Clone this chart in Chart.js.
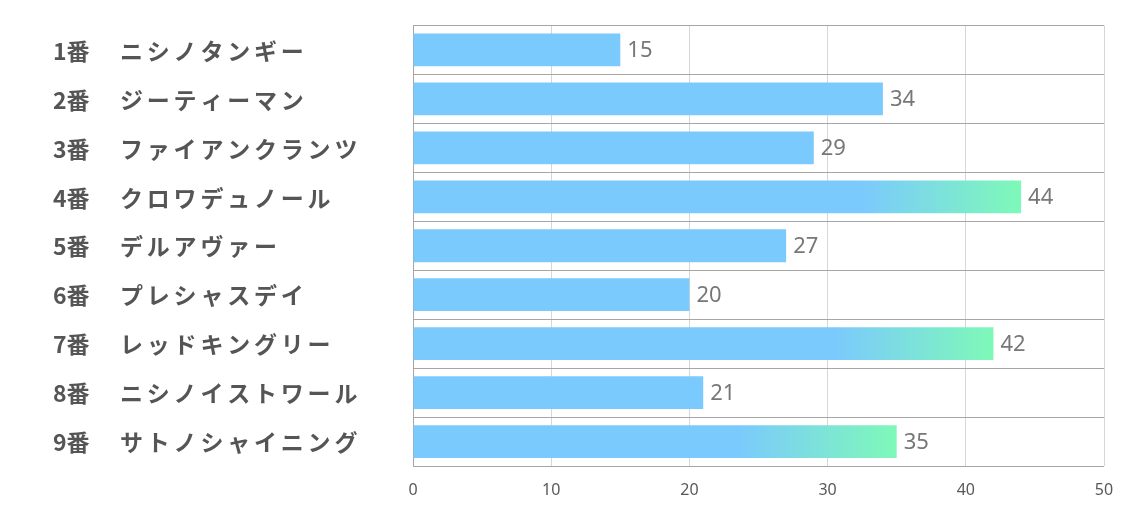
<!DOCTYPE html>
<html><head><meta charset="utf-8">
<script src="https://cdn.jsdelivr.net/npm/chart.js@4"></script>
<style>html,body{margin:0;padding:0;background:#fff}#w{width:1134px;height:510px}</style>
</head><body><div id="w"><canvas id="c"></canvas></div>
<script>
const categories = ["1番　ニシノタンギー","2番　ジーティーマン","3番　ファイアンクランツ","4番　クロワデュノール","5番　デルアヴァー","6番　プレシャスデイ","7番　レッドキングリー","8番　ニシノイストワール","9番　サトノシャイニング"];
const values = [15,34,29,44,27,20,42,21,35];
const highlighted = [false,false,false,true,false,false,true,false,true];
const xTicks = [0,10,20,30,40,50];

const BLUE = "#7bcafd", GREEN = "#7ef9b8";
function barColor(ctx){
  const i = ctx.dataIndex;
  if (!highlighted[i]) return BLUE;
  const chart = ctx.chart; const x = chart.scales.x;
  if (!x) return BLUE;
  const x1 = x.getPixelForValue(values[i]);
  const x0 = x.getPixelForValue(values[i]-11.5);
  const g = chart.ctx.createLinearGradient(x0,0,x1,0);
  g.addColorStop(0,BLUE); g.addColorStop(1,GREEN);
  return g;
}
const labelPlugin = {
  id:'labelPlugin',
  afterDatasetsDraw(chart){
    const c = chart.ctx; const meta = chart.getDatasetMeta(0);
    c.save(); c.fillStyle="#777"; c.font="22px 'Noto Sans', 'Open Sans', sans-serif";
    c.textBaseline="middle"; c.textAlign="left";
    meta.data.forEach((el,i)=>{ c.fillText(String(values[i]), el.x+7, el.y+1); });
    c.restore();
    // category labels, placed through the y scale
    const y = chart.scales.y;
    c.save(); c.fillStyle="#555"; c.font="bold 23px 'Noto Sans CJK JP', sans-serif";
    c.textBaseline="middle"; c.textAlign="left";
    categories.forEach((lab,i)=>{
      const parts = lab.split("　");
      const yy = y.getPixelForValue(i)+1;
      if ('letterSpacing' in c) c.letterSpacing = "0px";
      c.fillText(parts[0], 53, yy);
      if ('letterSpacing' in c) c.letterSpacing = "3.8px";
      c.fillText(parts[1], 120, yy);
    });
    c.restore();
  }
};
new Chart(document.getElementById('c'),{
  type:'bar',
  data:{labels:categories,datasets:[{data:values,backgroundColor:barColor,barPercentage:0.67,categoryPercentage:1}]},
  options:{
    indexAxis:'y',responsive:true,maintainAspectRatio:false,animation:false,
    layout:{padding:{left:52,right:30,top:25.5,bottom:0}},
    plugins:{legend:{display:false},tooltip:{enabled:false}},
    scales:{
      x:{min:0,max:50,afterBuildTicks(a){a.ticks=xTicks.map(v=>({value:v}));},
        afterFit(a){a.height=44;},
        grid:{color:"#d6d6d6",drawTicks:false},border:{display:false},
        ticks:{color:"#595959",font:{size:16,family:"'Liberation Sans Narrow','Noto Sans',sans-serif"},padding:15}},
      y:{grid:{color:"#a6a6a6",offset:true,drawTicks:false},border:{color:"#a6a6a6"},
        afterFit(a){a.width=361;},
        ticks:{display:false}}
    }
  },
  plugins:[labelPlugin]
});
</script></body></html>
